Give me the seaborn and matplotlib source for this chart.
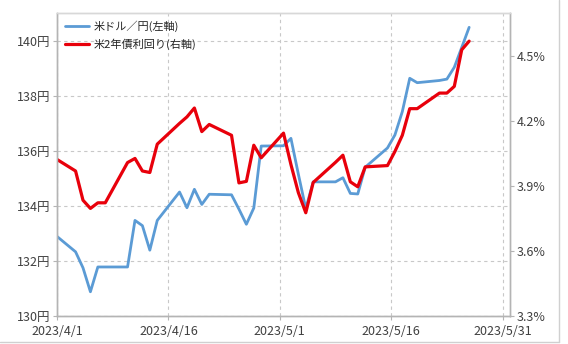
import matplotlib
matplotlib.use("Agg")
import matplotlib.pyplot as plt
import seaborn as sns
import pandas as pd
from matplotlib.lines import Line2D

# ---- data ----
dates = ["2023-03-31", "2023-04-03", "2023-04-04", "2023-04-05", "2023-04-06", "2023-04-07",
         "2023-04-10", "2023-04-11", "2023-04-12", "2023-04-13", "2023-04-14",
         "2023-04-17", "2023-04-18", "2023-04-19", "2023-04-20", "2023-04-21",
         "2023-04-24", "2023-04-25", "2023-04-26", "2023-04-27", "2023-04-28",
         "2023-05-01", "2023-05-02", "2023-05-03", "2023-05-04", "2023-05-05",
         "2023-05-08", "2023-05-09", "2023-05-10", "2023-05-11", "2023-05-12",
         "2023-05-15", "2023-05-16", "2023-05-17", "2023-05-18", "2023-05-19",
         "2023-05-22", "2023-05-23", "2023-05-24", "2023-05-25", "2023-05-26"]
usd_jpy = [133.0, 132.33, 131.75, 130.88, 131.78, 131.78,
           131.78, 133.47, 133.28, 132.39, 133.47,
           134.50, 133.93, 134.60, 134.05, 134.42,
           134.40, 133.88, 133.33, 133.92, 136.17,
           136.18, 136.45, 135.15, 133.90, 134.87,
           134.87, 135.02, 134.45, 134.43, 135.40,
           136.10, 136.57, 137.42, 138.63, 138.47,
           138.55, 138.60, 139.03, 139.75, 140.48]
us_2y = [4.034, 3.970, 3.835, 3.797, 3.823, 3.823,
         4.009, 4.028, 3.970, 3.963, 4.094,
         4.190, 4.220, 4.261, 4.152, 4.185,
         4.135, 3.915, 3.922, 4.089, 4.031,
         4.145, 4.000, 3.870, 3.777, 3.917,
         4.010, 4.043, 3.920, 3.897, 3.989,
         3.995, 4.060, 4.135, 4.258, 4.258,
         4.330, 4.330, 4.361, 4.530, 4.570]
series_names = ["米ドル／円(左軸)", "米2年債利回り(右軸)"]
x_ticks = ["2023-04-01", "2023-04-16", "2023-05-01", "2023-05-16", "2023-05-31"]
x_tick_labels = ["2023/4/1", "2023/4/16", "2023/5/1", "2023/5/16", "2023/5/31"]
left_ticks = [130, 132, 134, 136, 138, 140]
left_tick_labels = ["130円", "132円", "134円", "136円", "138円", "140円"]
right_ticks = [3.3, 3.6, 3.9, 4.2, 4.5]
right_tick_labels = ["3.3%", "3.6%", "3.9%", "4.2%", "4.5%"]

# ---- style ----
sns.set_theme(style="white")
plt.rcParams['font.family'] = ['Noto Sans CJK JP', 'DejaVu Sans']

BLUE = "#5B9BD5"
RED = "#E8000B"
GRID = "#c8c8c8"
SPINE = "#b4b4b4"
TXT = "#404040"

df = pd.DataFrame({
    "date": pd.to_datetime(dates) + pd.Timedelta(hours=12),  # Excel "between tick marks" placement
    "usd_jpy": usd_jpy,
    "us_2y": us_2y,
})

fig = plt.figure(figsize=(5.68, 3.44), dpi=100)
ax = fig.add_axes([57 / 568, 1 - 316 / 344, (510 - 57) / 568, (316 - 13) / 344])

sns.lineplot(data=df, x="date", y="usd_jpy", ax=ax, color=BLUE, linewidth=2.0,
             label=series_names[0], legend=False)
ax2 = ax.twinx()
sns.lineplot(data=df, x="date", y="us_2y", ax=ax2, color=RED, linewidth=2.3,
             label=series_names[1], legend=False)

ax.set_xlim(pd.Timestamp("2023-04-01"), pd.Timestamp("2023-06-01"))
ax.set_ylim(130, 141)
ax2.set_ylim(3.3, 4.7)

ax.set_xticks(pd.to_datetime(x_ticks))
ax.set_xticklabels(x_tick_labels)
ax.set_yticks(left_ticks)
ax.set_yticklabels(left_tick_labels)
ax2.set_yticks(right_ticks)
ax2.set_yticklabels(right_tick_labels)

for a in (ax, ax2):
    a.set_xlabel("")
    a.set_ylabel("")
    a.tick_params(axis="both", which="both", length=3, width=0.8, color=SPINE,
                  labelsize=9, labelcolor=TXT, pad=2)
    for s in a.spines.values():
        s.set_color(SPINE)
        s.set_linewidth(1.0)
    a.spines["top"].set_color("#d8d8d8")

ax.tick_params(axis="y", left=True)
ax.tick_params(axis="x", bottom=True, pad=3.5)
ax2.tick_params(axis="y", right=True)

ax.set_axisbelow(True)
ax.grid(True, linestyle=(0, (3, 3)), color=GRID, linewidth=0.8)
ax2.grid(False)

handles = [Line2D([], [], color=BLUE, linewidth=2.0),
           Line2D([], [], color=RED, linewidth=2.3)]
leg = ax2.legend(handles, series_names, loc="upper left", frameon=False, fontsize=8,
                 handlelength=2.2, handletextpad=0.4, labelspacing=0.55,
                 borderaxespad=0.3, bbox_to_anchor=(0.0, 1.0))
for t in leg.get_texts():
    t.set_color("#262626")

# outer frame lines (right / bottom) like the reference image border
fig.add_artist(Line2D([559 / 568, 559 / 568], [2 / 344, 1], transform=fig.transFigure,
                      color="#d0d0d0", linewidth=1))
fig.add_artist(Line2D([0, 559 / 568], [2 / 344, 2 / 344], transform=fig.transFigure,
                      color="#d0d0d0", linewidth=1))

fig.savefig("out.png", dpi=100)
